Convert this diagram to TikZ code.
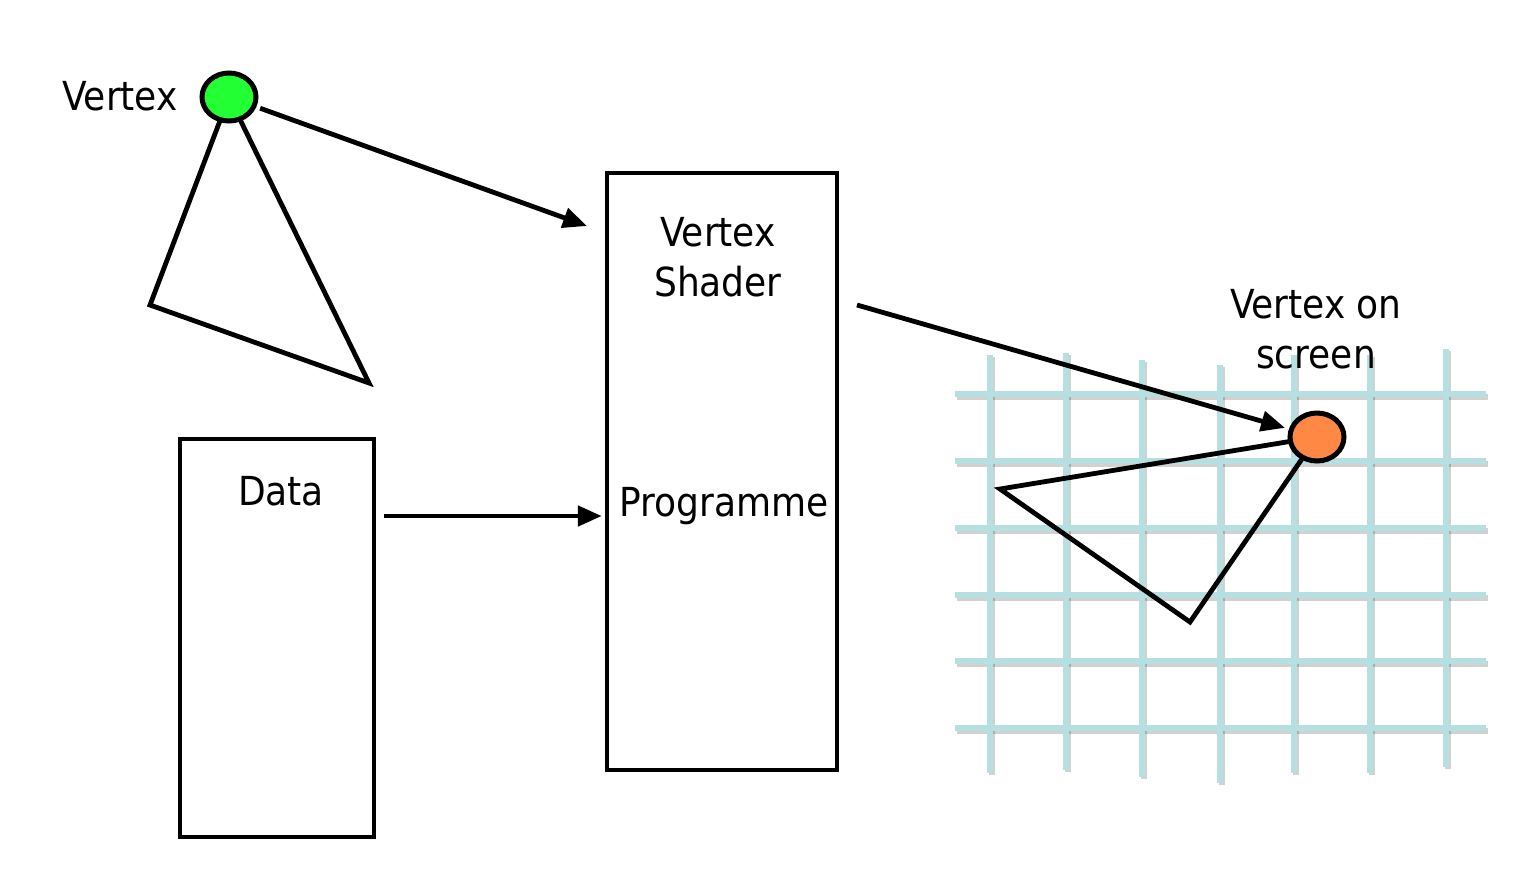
\documentclass[tikz,border=0pt]{standalone}
\usepackage{fontspec}
\setmainfont{DejaVu Sans Condensed}
\usepackage{xcolor}
\usetikzlibrary{arrows.meta,shapes.geometric}
\definecolor{vgreen}{HTML}{22FF33}
\definecolor{vorange}{HTML}{FF8844}
\definecolor{gridblue}{HTML}{B5DFE0}
\tikzset{
  lbl/.style={font=\fontsize{20}{25}\selectfont,inner sep=0pt,align=center},
  box/.style={draw,line width=2.2pt,rectangle,inner sep=0pt},
  vert/.style={draw,line width=2.5pt,ellipse,inner sep=0pt,minimum width=27pt,minimum height=24pt},
  arr/.style={line width=2.4pt,-{Triangle[length=12pt,width=10pt]}},
  edge/.style={line width=2.4pt,line join=miter},
  gline/.style={line width=2.6pt,gridblue},
  gshadow/.style={line width=2.6pt,black,opacity=0.18}
}
\begin{document}
\begin{tikzpicture}[x=0.5pt,y=-0.5pt]
\useasboundingbox (0,0) rectangle (1517,875);
%屏幕网格
\foreach \y in {394,461,528,595,661,728}
  \draw[gshadow] (957,\y+3) -- (1488,\y+3);
\foreach \x/\t/\b in {990/355/773,1066/353/770,1142/360/777,1220/365/783,1294/355/773,1370/355/773,1446/349/767}
  \draw[gshadow] (\x+2,\t+2) -- (\x+2,\b+2);
\foreach \y in {394,461,528,595,661,728}
  \draw[gline] (955,\y) -- (1486,\y);
\foreach \x/\t/\b in {990/355/773,1066/353/770,1142/360/777,1220/365/783,1294/355/773,1370/355/773,1446/349/767}
  \draw[gline] (\x,\t) -- (\x,\b);
%三角形
\coordinate (gv) at (229,97);
\coordinate (ov) at (1317,437);
\draw[edge] (gv) -- (150,305) -- (369,383) -- cycle;
\draw[edge] (ov) -- (1000,489) -- (1190,622) -- cycle;
%顶点
\node[vert,fill=vgreen] (green) at (gv) {};
\node[vert,fill=vorange] (orange) at (ov) {};
%框
\node[box,minimum width=115pt,minimum height=298.5pt] (shader) at (722,471.5) {};
\node[box,minimum width=97pt,minimum height=199pt] (data) at (277,638) {};
%Text
\node[lbl,anchor=base] (vlabel) at (120,110) {Vertex};
\node[lbl] (vshader) at (718,257) {Vertex\\Shader};
\node[lbl,anchor=base] (prog) at (724,516) {Programme};
\node[lbl,anchor=base] (dlabel) at (281,505) {Data};
\node[lbl] (vscreen) at (1316,329) {Vertex on\\screen};
%箭头
\coordinate (a1) at (587,226);
\coordinate (a3) at (857,305);
\draw[arr,shorten <=2pt] (green) -- (a1);
\draw[arr,shorten <=4pt,shorten >=1.5pt] (data.east |- prog.base) -- (shader.west |- prog.base);
\draw[arr,shorten >=2pt] (a3) -- (orange);
\end{tikzpicture}
\end{document}
